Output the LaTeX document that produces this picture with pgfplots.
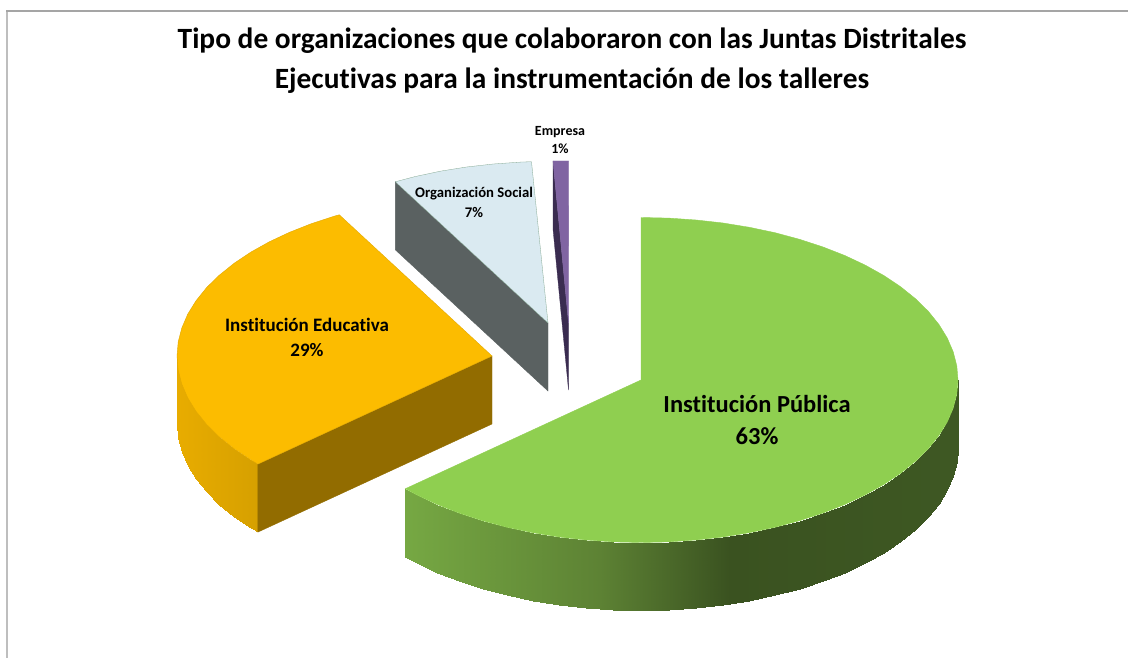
\documentclass[border=0pt]{standalone}
\usepackage{fontspec}
\setmainfont{Carlito}[Ligatures={NoCommon}]
\usepackage{pgfplots}
\pgfplotsset{compat=1.18}
\definecolor{greentop}{RGB}{143,207,80}
\definecolor{orangetop}{RGB}{252,188,0}
\definecolor{orangeface}{RGB}{146,108,0}
\definecolor{bluetop}{RGB}{218,234,241}
\definecolor{blueface}{RGB}{90,97,97}
\definecolor{purpletop}{RGB}{128,100,162}
\definecolor{purpleface}{RGB}{58,44,80}
\definecolor{frametop}{RGB}{165,165,165}
\definecolor{frameleft}{RGB}{190,190,190}
\pgfplotsset{colormap={pie}{rgb255(177pt)=(232,172,0); rgb255(258pt)=(214,160,0); rgb255(405pt)=(118,168,67); rgb255(600pt)=(93,130,52); rgb255(730pt)=(58,82,32); rgb255(958pt)=(62,88,35)}}
\newcommand{\lab}[2]{\bfseries\fontsize{#1}{#2}\selectfont}
\begin{document}
\begin{tikzpicture}
\useasboundingbox (0,0) rectangle (1128pt,658pt);
\begin{axis}[at={(0,0)},anchor=south west,scale only axis,width=1128pt,height=658pt,
  xmin=0,xmax=1128,ymin=0,ymax=658,y dir=reverse,hide axis,clip=false,
  colormap name=pie,point meta min=177,point meta max=958]
% frame
\addplot[frameleft,line width=1.5pt] coordinates {(7,658) (7,11)};
\addplot[frametop,line width=1.3pt] coordinates {(6.3,11) (1128,11)};
% green side
\addplot[surf,shader=interp,point meta=x,mesh/rows=2] table {
x y
958 380
956.8 394.2
953.2 408.2
947.2 422.1
938.9 435.6
928.3 448.7
915.5 461.25
900.7 473.2
883.8 484.5
865.2 494.9
844.8 504.5
822.8 513.1
799.5 520.7
775 527.3
749.4 532.7
723 537
696 540
668.6 541.9
641 542.5
613.4 541.9
586 540
559 537
532.6 532.7
507 527.3
482.5 520.7
459.2 513.1
437.2 504.5
416.8 494.9
405.4 488.7
958 448
956.8 462.2
953.2 476.2
947.2 490.1
938.9 503.6
928.3 516.7
915.5 529.25
900.7 541.2
883.8 552.5
865.2 562.9
844.8 572.5
822.8 581.1
799.5 588.7
775 595.3
749.4 600.7
723 605
696 608
668.6 609.9
641 610.5
613.4 609.9
586 608
559 605
532.6 600.7
507 595.3
482.5 588.7
459.2 581.1
437.2 572.5
416.8 562.9
405.4 556.7
};
% green top
\addplot[fill=greentop,draw=greentop,line width=.4pt] coordinates {
(641,380) (641,217.5) (668.6,218.1) (696,220) (723,223) (749.4,227.3) (775,232.7) (799.5,239.3) (822.8,246.9) (844.8,255.5) (865.2,265.1) (883.8,275.5) (900.7,286.8) (915.5,298.75) (928.3,311.3) (938.9,324.4) (947.2,337.9) (953.2,351.8) (956.8,365.8) (958,380) (956.8,394.2) (953.2,408.2) (947.2,422.1) (938.9,435.6) (928.3,448.7) (915.5,461.25) (900.7,473.2) (883.8,484.5) (865.2,494.9) (844.8,504.5) (822.8,513.1) (799.5,520.7) (775,527.3) (749.4,532.7) (723,537) (696,540) (668.6,541.9) (641,542.5) (613.4,541.9) (586,540) (559,537) (532.6,532.7) (507,527.3) (482.5,520.7) (459.2,513.1) (437.2,504.5) (416.8,494.9) (405.4,488.7)
} -- cycle;
% orange side
\addplot[surf,shader=interp,point meta=x,mesh/rows=2] table {
x y
257.9 464.1
250.7 459.8
234 448.6
219.2 436.75
206.5 424.3
196 411.2
187.7 397.8
181.8 384
178.2 370.1
177 356
257.9 532.1
250.7 527.8
234 516.6
219.2 504.75
206.5 492.3
196 479.2
187.7 465.8
181.8 452
178.2 438.1
177 424
};
% orange front face
\addplot[fill=orangeface,draw=orangeface,line width=.4pt] coordinates {(257.9,464.1) (492,356) (492,424) (257.9,532.1)} -- cycle;
% orange top
\addplot[fill=orangetop,draw=orangetop!90!black,line width=.4pt] coordinates {
(492,356) (257.9,464.1) (250.7,459.8) (234,448.6) (219.2,436.75) (206.5,424.3) (196,411.2) (187.7,397.8) (181.8,384) (178.2,370.1) (177,356) (178.2,341.9) (181.8,328) (187.7,314.2) (196,300.8) (206.5,287.7) (219.2,275.25) (234,263.4) (250.7,252.2) (269.3,241.8) (289.5,232.3) (311.3,223.7) (334.5,216.1) (339.3,214.8)
} -- cycle;
% social side
\addplot[fill=blueface,draw=blueface,line width=.4pt] coordinates {(395.3,181.8) (548,323) (548,391) (395.3,249.8)} -- cycle;
% social top
\addplot[fill=bluetop,draw=bluetop!85!green!70!black,line width=.3pt] coordinates {
(548,323) (395.3,181.8) (414.9,176.6) (440.3,171.2) (466.5,167) (493.3,164) (520.5,162.1) (531.5,161.7)
} -- cycle;
% empresa
\addplot[fill=purpleface,draw=purpleface,line width=.3pt] coordinates {(553,161) (568.5,323) (568.5,390) (553,229)} -- cycle;
\addplot[fill=purpletop,draw=purpletop,line width=.3pt] coordinates {(553,161) (568.7,161) (568.5,323)} -- cycle;
% text
\node[align=center,font=\lab{29.4}{40}] at (axis cs:572,60.5) {Tipo de organizaciones que colaboraron con las Juntas Distritales\\Ejecutivas para la instrumentación de los talleres};
\node[align=center,font=\lab{24.5}{32}] at (axis cs:757,420) {Institución Pública\\63\%};
\node[align=center,font=\lab{19}{25}] at (axis cs:307,337) {Institución Educativa\\29\%};
\node[align=center,font=\lab{14.7}{20}] at (axis cs:474,202) {Organización Social\\7\%};
\node[align=center,font=\lab{14}{18}] at (axis cs:560,140) {Empresa\\1\%};
\end{axis}
\end{tikzpicture}
\end{document}
